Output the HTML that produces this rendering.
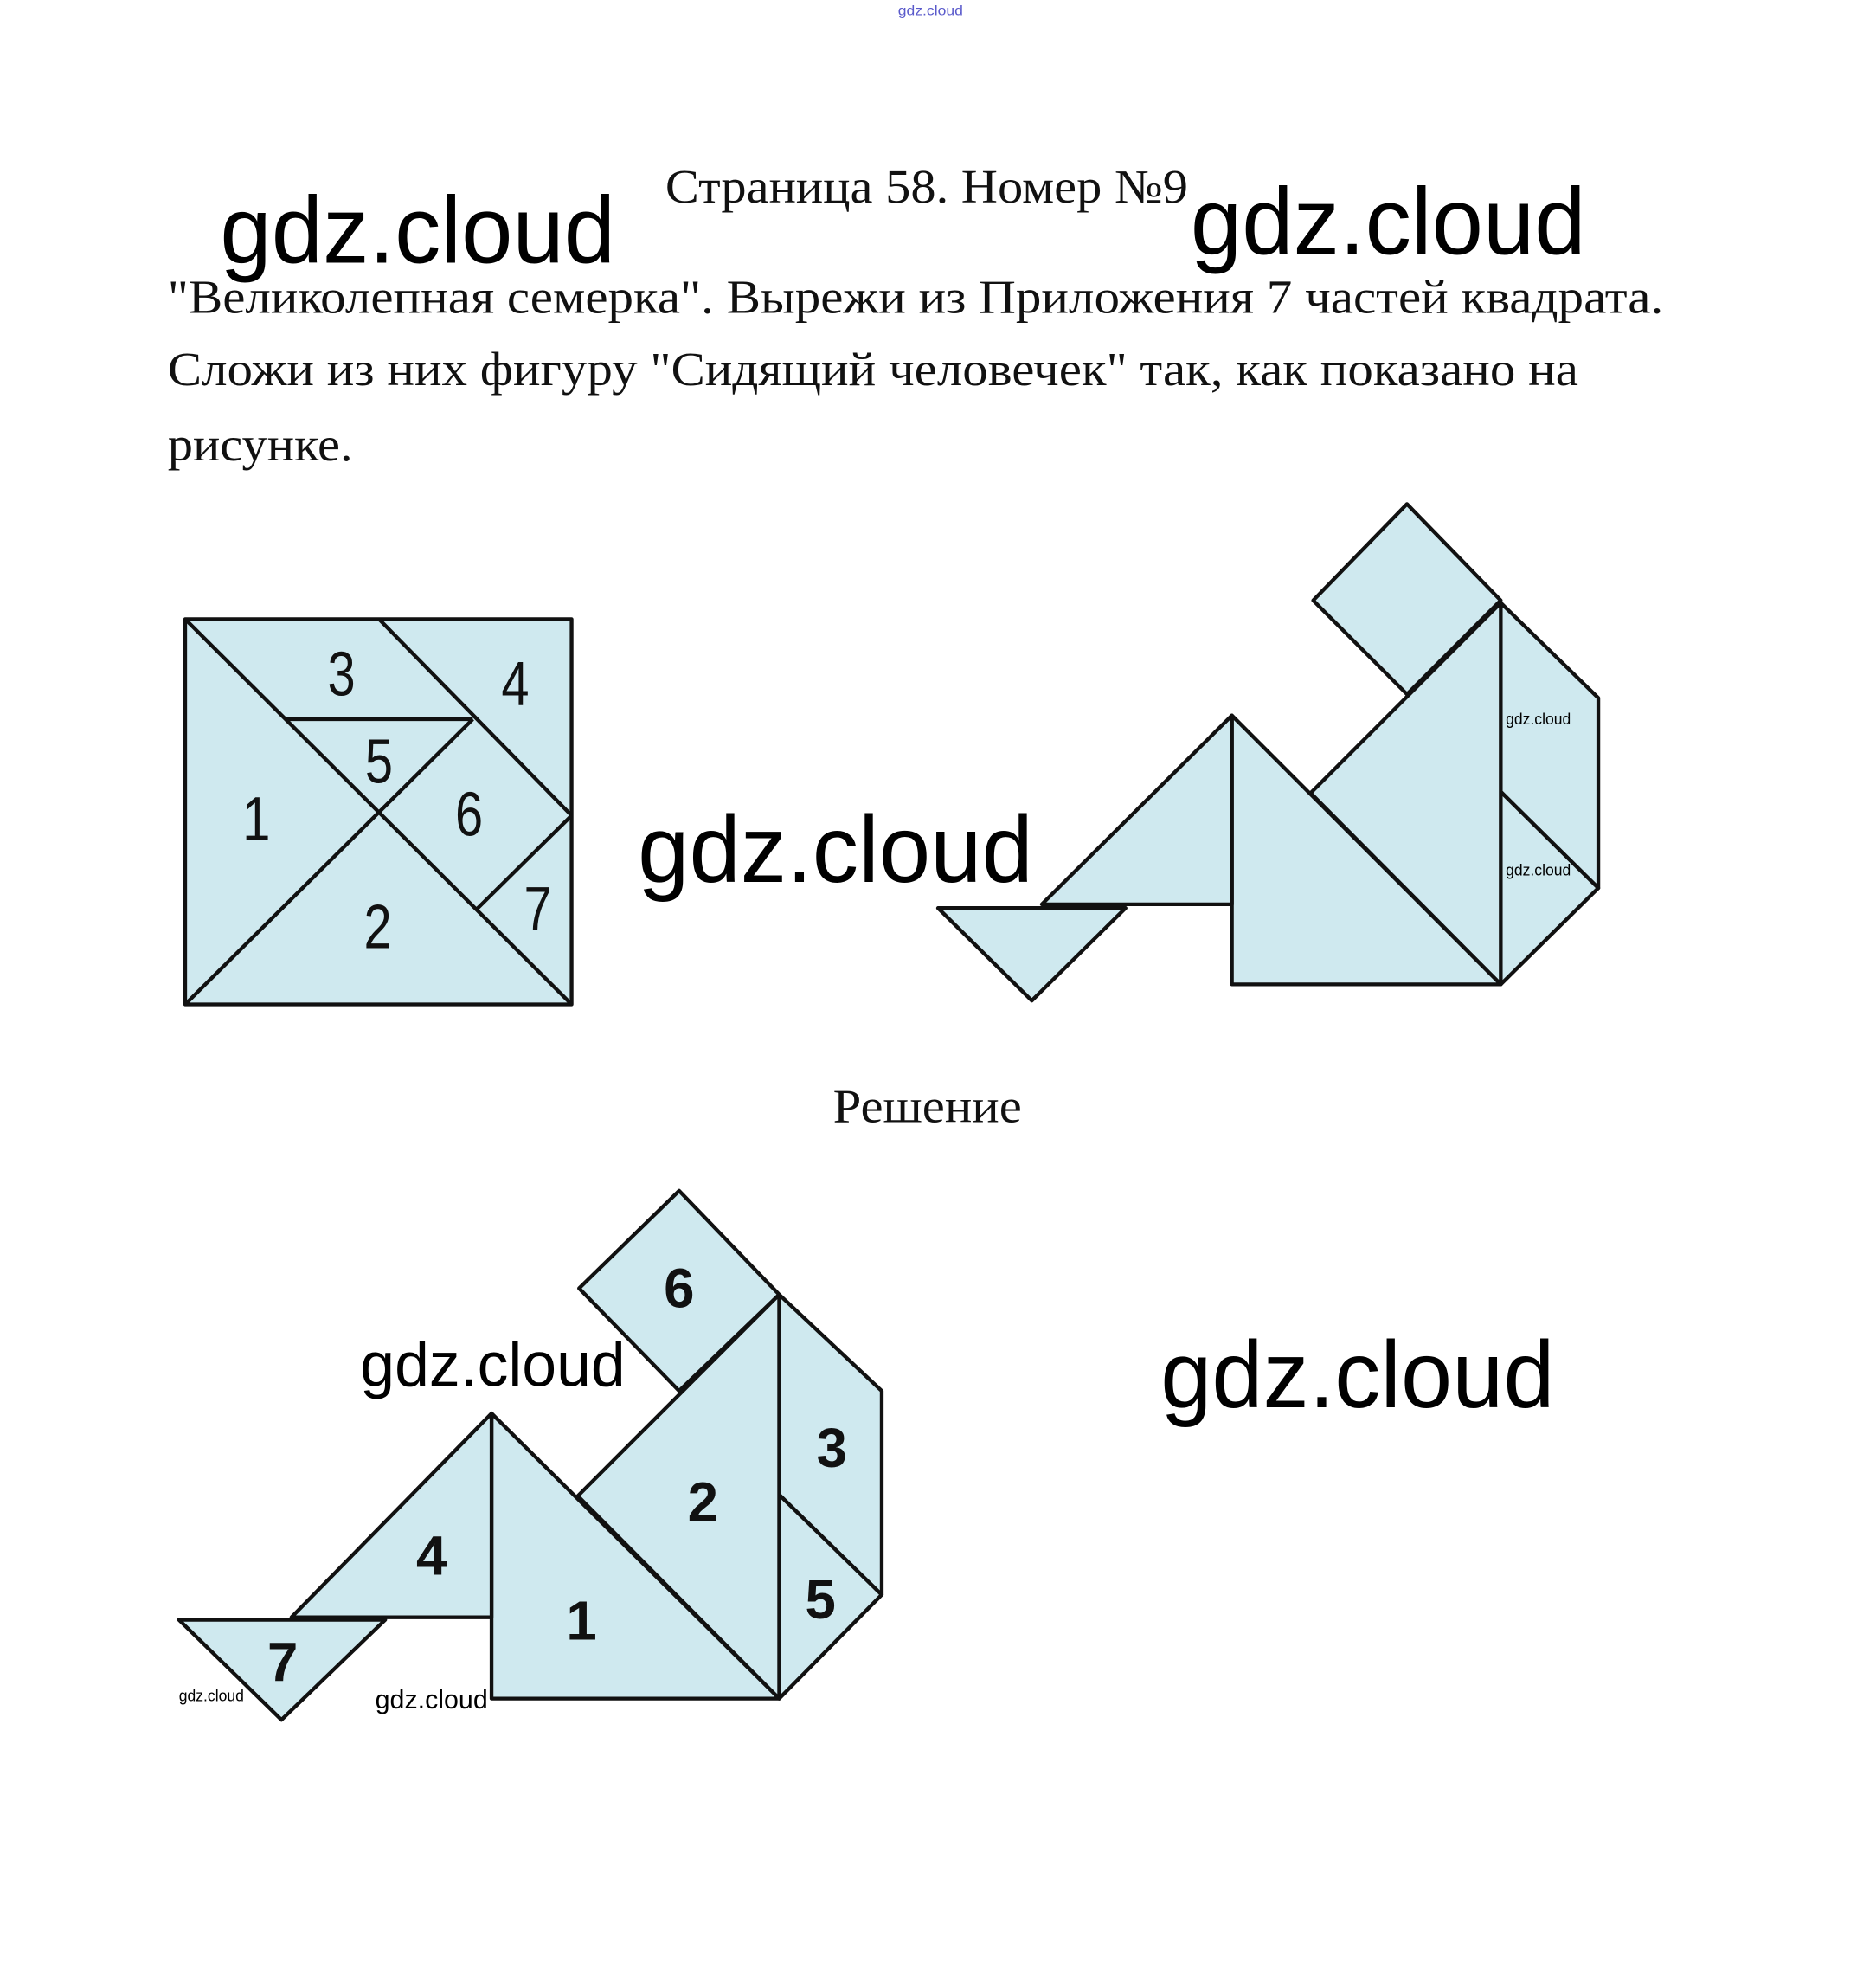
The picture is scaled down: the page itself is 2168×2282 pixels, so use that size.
<!DOCTYPE html>
<html><head><meta charset="utf-8"><style>
html,body{margin:0;padding:0;background:#fff;}
svg{display:block;}
.t{font-family:"Liberation Serif",serif;fill:#111;}
.g{font-family:"Liberation Sans",sans-serif;fill:#000;}
.n{font-family:"Liberation Sans",sans-serif;fill:#111;}
.p{fill:#cfe9ef;stroke:#111;stroke-width:3;stroke-linejoin:round;}
</style></head><body>
<svg width="2168" height="2282" viewBox="0 0 1500 1579" xmlns="http://www.w3.org/2000/svg">
<rect width="1500" height="1579" fill="#fff"/>
<text class="g" x="718" y="12" font-size="11" fill="#5050c0" style="fill:#5a5acb" textLength="52" lengthAdjust="spacingAndGlyphs">gdz.cloud</text>

<text class="t" x="532" y="162" font-size="38" textLength="418" lengthAdjust="spacingAndGlyphs">Страница 58. Номер №9</text>
<text class="g" x="176" y="210" font-size="76" textLength="316" lengthAdjust="spacingAndGlyphs">gdz.cloud</text>
<text class="g" x="952" y="203" font-size="76" textLength="316" lengthAdjust="spacingAndGlyphs">gdz.cloud</text>

<text class="t" x="134" y="250" font-size="38" textLength="1196" lengthAdjust="spacingAndGlyphs">"Великолепная семерка". Вырежи из Приложения 7 частей квадрата.</text>
<text class="t" x="134" y="308" font-size="38" textLength="1128" lengthAdjust="spacingAndGlyphs">Сложи из них фигуру "Сидящий человечек" так, как показано на</text>
<text class="t" x="134" y="368" font-size="38" textLength="148" lengthAdjust="spacingAndGlyphs">рисунке.</text>

<!-- square -->
<rect class="p" x="148" y="495" width="309" height="308"/>
<g stroke="#111" stroke-width="3" fill="none">
<line x1="148" y1="495" x2="457" y2="803"/>
<line x1="148" y1="803" x2="378" y2="575"/>
<line x1="303" y1="495" x2="457" y2="652"/>
<line x1="228" y1="575" x2="378" y2="575"/>
<line x1="457" y1="652" x2="380" y2="728"/>
</g>
<g class="n" font-size="50" text-anchor="middle">
<text x="273" y="556" transform="translate(273 0) scale(0.8 1) translate(-273 0)">3</text>
<text x="412" y="564" transform="translate(412 0) scale(0.8 1) translate(-412 0)">4</text>
<text x="303" y="626" transform="translate(303 0) scale(0.8 1) translate(-303 0)">5</text>
<text x="205" y="672" transform="translate(205 0) scale(0.8 1) translate(-205 0)">1</text>
<text x="375" y="668" transform="translate(375 0) scale(0.8 1) translate(-375 0)">6</text>
<text x="302" y="758" transform="translate(302 0) scale(0.8 1) translate(-302 0)">2</text>
<text x="430" y="744" transform="translate(430 0) scale(0.8 1) translate(-430 0)">7</text>
</g>

<text class="g" x="510" y="705" font-size="76" textLength="316" lengthAdjust="spacingAndGlyphs">gdz.cloud</text>

<!-- right figure -->
<polygon class="p" points="1125,403 1200,480 1125,555 1050,480"/>
<polygon class="p" points="1200,482 1278,558 1278,710 1200,633"/>
<polygon class="p" points="1200,633 1278,710 1200,787"/>
<polygon class="p" points="1200,482 1200,787 1048,634"/>
<polygon class="p" points="985,572 985,787 1200,787"/>
<polygon class="p" points="985,572 985,723 833,723"/>
<polygon class="p" points="750,726 900,726 825,800"/>
<text class="g" x="1204" y="579" font-size="13" textLength="52" lengthAdjust="spacingAndGlyphs">gdz.cloud</text>
<text class="g" x="1204" y="700" font-size="13" textLength="52" lengthAdjust="spacingAndGlyphs">gdz.cloud</text>

<text class="t" x="666" y="897" font-size="38" textLength="151" lengthAdjust="spacingAndGlyphs">Решение</text>

<!-- solution figure -->
<polygon class="p" points="543,952 623,1035 543,1112 463,1030"/>
<polygon class="p" points="623,1035 705,1112 705,1275 623,1195"/>
<polygon class="p" points="623,1195 705,1275 623,1358"/>
<polygon class="p" points="623,1035 623,1358 462,1196"/>
<polygon class="p" points="393,1130 393,1358 623,1358"/>
<polygon class="p" points="393,1130 393,1293 233,1293"/>
<polygon class="p" points="143,1295 308,1295 225,1375"/>
<g class="n" font-size="44" font-weight="bold" text-anchor="middle">
<text x="543" y="1045">6</text>
<text x="562" y="1216">2</text>
<text x="665" y="1173">3</text>
<text x="656" y="1294">5</text>
<text x="345" y="1259">4</text>
<text x="465" y="1311">1</text>
<text x="226" y="1344">7</text>
</g>
<text class="g" x="288" y="1108" font-size="50" textLength="212" lengthAdjust="spacingAndGlyphs">gdz.cloud</text>
<text class="g" x="928" y="1125" font-size="76" textLength="315" lengthAdjust="spacingAndGlyphs">gdz.cloud</text>
<text class="g" x="143" y="1360" font-size="13" textLength="52" lengthAdjust="spacingAndGlyphs">gdz.cloud</text>
<text class="g" x="300" y="1366" font-size="21" textLength="90" lengthAdjust="spacingAndGlyphs">gdz.cloud</text>
</svg>
</body></html>
